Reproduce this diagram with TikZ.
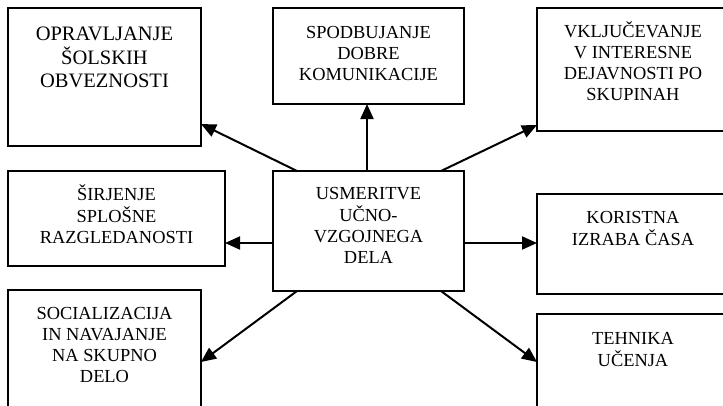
\documentclass[tikz,border=0pt]{standalone}
\usepackage{fontspec}
\setmainfont{Liberation Serif}
\usetikzlibrary{arrows.meta}
\newcommand{\lns}[1]{\begin{tabular}[t]{@{}c@{}}#1\end{tabular}}
\begin{document}
\begin{tikzpicture}[x=1pt,y=-1pt,
  box/.style={draw,line width=2.5pt,inner sep=0pt,outer sep=0pt,anchor=north west},
  txt/.style={inner sep=0pt,anchor=base,font=\fontsize{18.4}{21}\selectfont},
  bigtxt/.style={txt,font=\fontsize{20.5}{22.7}\selectfont},
  arr/.style={line width=2pt,-{Triangle[length=15pt,width=13pt]}}]
\useasboundingbox (0,0) rectangle (723,405);
\fill[white] (0,0) rectangle (723,405);
\clip (0,0) rectangle (723,405);
% boxes
\node[box,minimum width=193pt,minimum height=138pt] (opr) at (8,8) {};
\node[box,minimum width=191pt,minimum height=96pt] (spod) at (273,8) {};
\node[box,minimum width=192pt,minimum height=123pt] (vklj) at (537,8) {};
\node[box,minimum width=217pt,minimum height=95pt] (sir) at (8,171) {};
\node[box,minimum width=191pt,minimum height=120pt] (cen) at (273,171) {};
\node[box,minimum width=192pt,minimum height=100pt] (kor) at (537,194) {};
\node[box,minimum width=193pt,minimum height=130pt] (soc) at (8,290) {};
\node[box,minimum width=192pt,minimum height=106pt] (teh) at (537,314) {};
% texts
\node[bigtxt] (oprT) at ([yshift=-32.5pt]opr.north) {\lns{OPRAVLJANJE\\ ŠOLSKIH\\ OBVEZNOSTI}};
\node[txt] (spodT) at ([yshift=-30pt]spod.north) {\lns{SPODBUJANJE\\ DOBRE\\ KOMUNIKACIJE}};
\node[txt] (vkljT) at ([yshift=-29.5pt]vklj.north) {\lns{VKLJUČEVANJE\\ V INTERESNE\\ DEJAVNOSTI PO\\ SKUPINAH}};
\node[txt] (sirT) at ([yshift=-29pt]sir.north) {\lns{ŠIRJENJE\\ SPLOŠNE\\ RAZGLEDANOSTI}};
\node[txt] (cenT) at ([yshift=-28.5pt]cen.north) {\lns{USMERITVE\\ UČNO-\\ VZGOJNEGA\\ DELA}};
\node[txt] (korT) at ([yshift=-29.3pt]kor.north) {\lns{KORISTNA\\ IZRABA ČASA}};
\node[txt] (socT) at ([yshift=-29.3pt]soc.north) {\lns{SOCIALIZACIJA\\ IN NAVAJANJE\\ NA SKUPNO\\ DELO}};
\node[txt] (tehT) at ([yshift=-30pt]teh.north) {\lns{TEHNIKA\\ UČENJA}};
% connectors
\draw[arr] ([xshift=24pt]cen.north west) -- ([yshift=-116pt]opr.north east);
\draw[arr] ([xshift=94pt]cen.north west) -- ([xshift=94pt]spod.south west);
\draw[arr] ([xshift=-23pt]cen.north east) -- ([yshift=-117pt]vklj.north west);
\draw[arr] ([yshift=-72pt]cen.north west) -- ([yshift=-72pt]sir.north east);
\draw[arr] ([yshift=-72pt]cen.north east) -- ([yshift=-49pt]kor.north west);
\draw[arr] ([xshift=24pt]cen.south west) -- ([yshift=-72pt]soc.north east);
\draw[arr] ([xshift=-23pt]cen.south east) -- ([yshift=-48pt]teh.north west);
\end{tikzpicture}
\end{document}
